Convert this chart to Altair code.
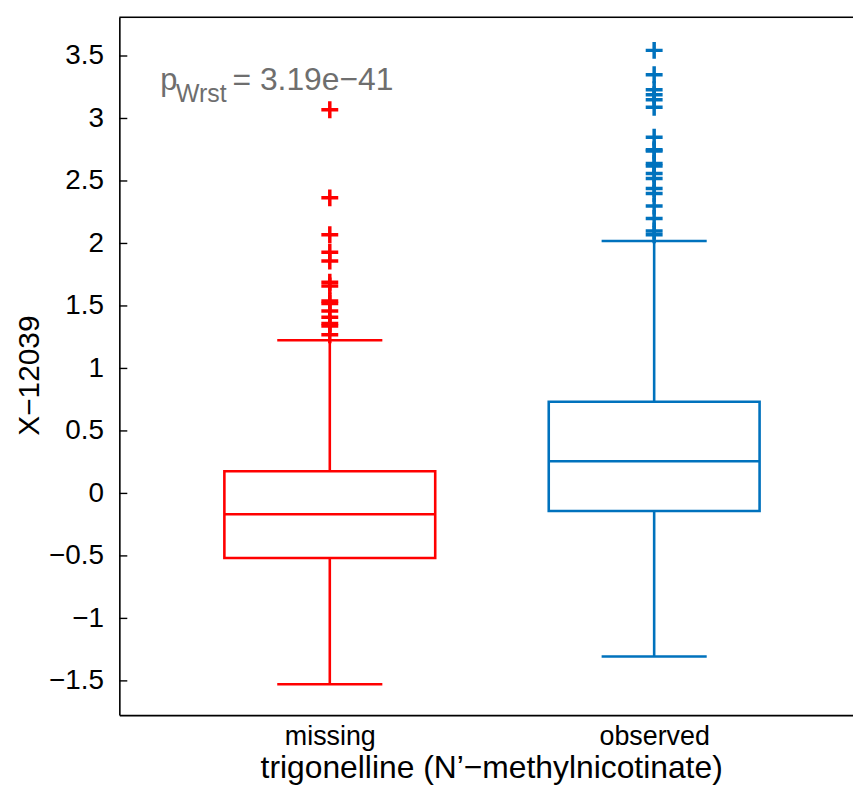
import altair as alt
import pandas as pd

# ---- data ----
groups = ["missing", "observed"]
positions = [1, 2]
colors = ["#FF0000", "#0072BD"]
q1 = [-0.517, -0.141]
median = [-0.167, 0.257]
q3 = [0.177, 0.734]
whisker_lo = [-1.527, -1.305]
whisker_hi = [1.225, 2.02]
outliers_missing = [3.07, 2.365, 2.07, 1.93, 1.86, 1.69, 1.66, 1.54, 1.52,
                    1.46, 1.41, 1.36, 1.34, 1.27]
outliers_observed = [3.545, 3.35, 3.23, 3.19, 3.15, 3.09, 2.85, 2.75, 2.74,
                     2.64, 2.62, 2.56, 2.52, 2.44, 2.40, 2.30, 2.20, 2.10, 2.07]
y_ticks = [-1.5, -1, -0.5, 0, 0.5, 1, 1.5, 2, 2.5, 3, 3.5]
annotation_p = "p"
annotation_sub = "Wrst"
annotation_val = "= 3.19e\u221241"
x_title = "trigonelline (N\u2019\u2212methylnicotinate)"
y_title = "X\u221212039"

# ---- layout / style ----
W, H = 738, 702
FONT = "Liberation Sans"
x_dom = [0.3512, 2.613]
y_dom = [-1.774, 3.81]
box_half = 0.325
cap_half = 0.162
LW = 2.6

boxdf = pd.DataFrame({
    "group": groups, "pos": positions, "q1": q1, "median": median, "q3": q3,
    "wlo": whisker_lo, "whi": whisker_hi,
})
outdf = pd.DataFrame({
    "group": [groups[0]] * len(outliers_missing) + [groups[1]] * len(outliers_observed),
    "pos": [positions[0]] * len(outliers_missing) + [positions[1]] * len(outliers_observed),
    "value": outliers_missing + outliers_observed,
})
tickdf = pd.DataFrame({"v": y_ticks})

xs = alt.Scale(domain=x_dom, nice=False, zero=False)
ys = alt.Scale(domain=y_dom, nice=False, zero=False)
cscale = alt.Scale(domain=groups, range=colors)
col = alt.Color("group:N", scale=cscale, legend=None)

label_map = " : ".join(f"datum.value == {p} ? '{g}'" for p, g in zip(positions, groups)) + " : ''"

x_axis = alt.Axis(values=positions, labelExpr=label_map, tickSize=0, grid=False,
                  labelPadding=9, labelFontSize=27, labelFont=FONT, labelColor="black",
                  domainColor="black", domainWidth=1.6, title=x_title,
                  titleFont=FONT, titleFontSize=32, titleFontWeight="normal",
                  titleColor="black", titleX=374, titleY=38, titleBaseline="top",
                  titleAlign="center")
y_axis = alt.Axis(values=y_ticks,
                  labelExpr="replace(format(datum.value, '~g'), '-', '\u2212')",
                  tickSize=0, grid=False, labelPadding=16, labelFontSize=28,
                  labelFont=FONT, labelColor="black", domainColor="black",
                  domainWidth=1.6, title=y_title, titleFont=FONT, titleFontSize=30,
                  titleFontWeight="normal", titleColor="black", titleX=-90,
                  titleY=360, titleBaseline="middle", titleAlign="center",
                  titleAngle=-90)


def X(field):
    return alt.X(field, scale=xs, axis=x_axis)


def Y(field):
    return alt.Y(field, scale=ys, axis=y_axis)


base = alt.Chart(boxdf).transform_calculate(
    lo=f"datum.pos - {box_half}", hi=f"datum.pos + {box_half}",
    clo=f"datum.pos - {cap_half}", chi=f"datum.pos + {cap_half}",
)

boxes = base.mark_rect(fill=None, strokeWidth=LW).encode(
    x=X("lo:Q"), x2="hi:Q", y=Y("q1:Q"), y2="q3:Q",
    stroke=alt.Stroke("group:N", scale=cscale, legend=None),
)
med = base.mark_rule(strokeWidth=LW).encode(
    x=X("lo:Q"), x2="hi:Q", y=Y("median:Q"), color=col)
wh_up = base.mark_rule(strokeWidth=LW).encode(
    x=X("pos:Q"), y=Y("q3:Q"), y2="whi:Q", color=col)
wh_dn = base.mark_rule(strokeWidth=LW).encode(
    x=X("pos:Q"), y=Y("wlo:Q"), y2="q1:Q", color=col)
cap_up = base.mark_rule(strokeWidth=LW).encode(
    x=X("clo:Q"), x2="chi:Q", y=Y("whi:Q"), color=col)
cap_dn = base.mark_rule(strokeWidth=LW).encode(
    x=X("clo:Q"), x2="chi:Q", y=Y("wlo:Q"), color=col)

pts = alt.Chart(outdf).mark_point(
    shape="M-1,0L1,0M0,-1L0,1", filled=False, strokeWidth=3.5, size=289, opacity=1
).encode(
    x=X("pos:Q"), y=Y("value:Q"),
    stroke=alt.Stroke("group:N", scale=cscale, legend=None),
)

ticks = alt.Chart(tickdf).mark_rule(color="black", strokeWidth=1.4).encode(
    x=alt.value(0), x2=alt.value(8), y=Y("v:Q"),
)
top_border = alt.Chart(pd.DataFrame({"a": [0]})).mark_rule(
    color="black", strokeWidth=1.6
).encode(x=alt.value(0), x2=alt.value(W), y=alt.value(0))

anndf = pd.DataFrame({
    "t": [annotation_p, annotation_sub, annotation_val],
    "x": [0.477, 0.526, 0.700],
    "y": [3.225, 3.135, 3.225],
    "s": [31, 25, 32],
})
ann = alt.Chart(anndf).mark_text(
    align="left", baseline="alphabetic", font=FONT, color="#6E6E6E"
).encode(
    x=X("x:Q"), y=Y("y:Q"), text="t:N",
    size=alt.Size("s:Q", scale=None, legend=None),
)

chart = alt.layer(
    boxes, med, wh_up, wh_dn, cap_up, cap_dn, pts, ticks, top_border, ann
).properties(
    width=W, height=H, autosize="none",
    padding={"left": 112, "top": 7, "right": 0, "bottom": 72},
).configure_view(stroke=None).configure(background="white")

chart.save("out.html", embed_options={"renderer": "svg", "actions": False})
